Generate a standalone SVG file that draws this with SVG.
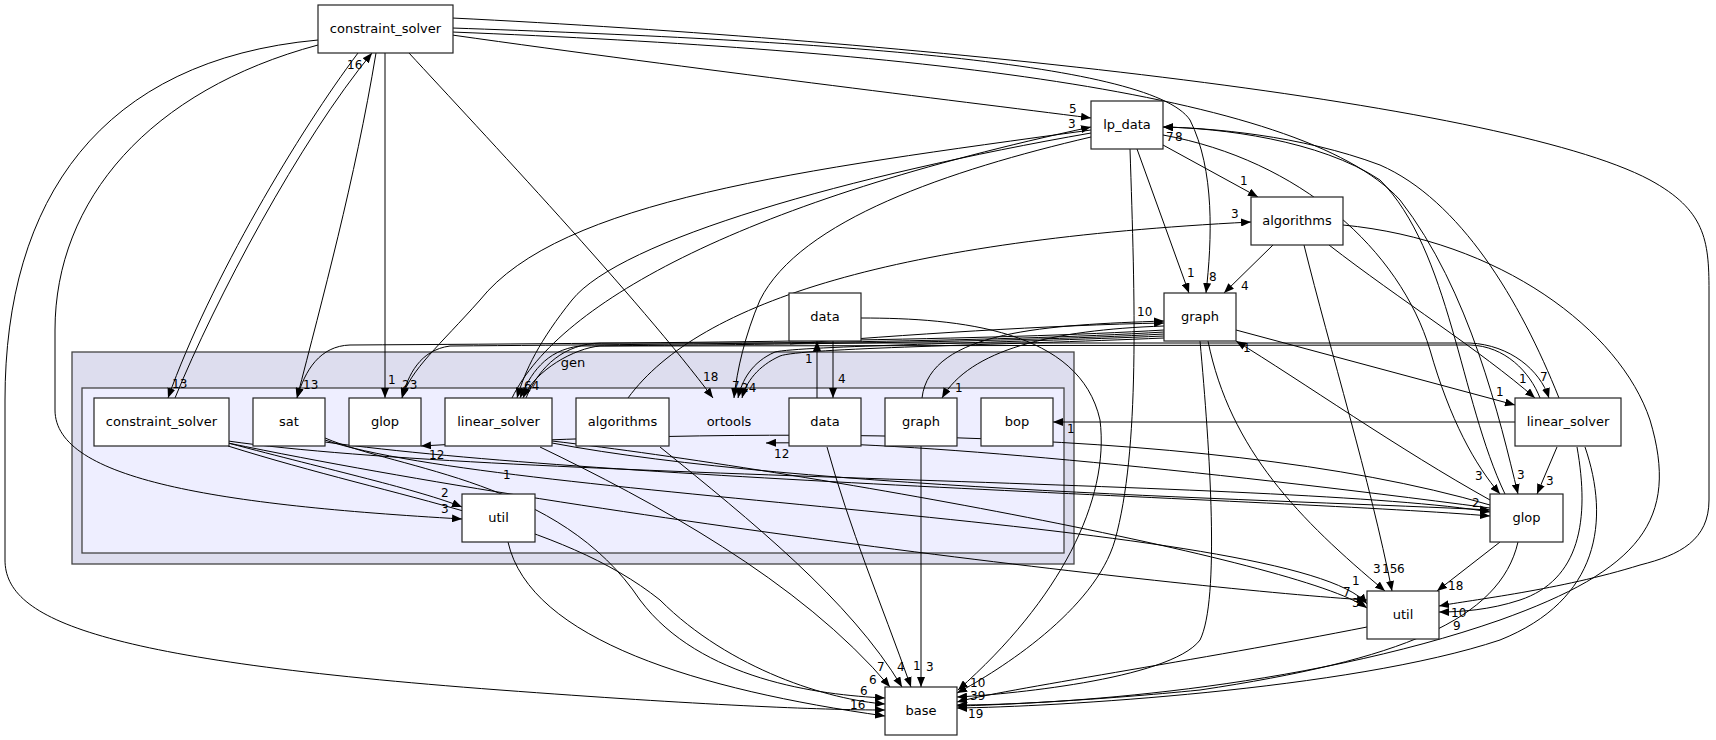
<svg xmlns="http://www.w3.org/2000/svg" width="1716" height="740" viewBox="0 0 1716 740">
<style>
.n rect{fill:#fff;stroke:#222;stroke-width:1.2}
.t{font-family:"DejaVu Sans","Liberation Sans",sans-serif;font-size:13px;fill:#000;text-anchor:middle}
.l{font-family:"DejaVu Sans","Liberation Sans",sans-serif;font-size:12px;fill:#000}
#edges path{fill:none;stroke:#000;stroke-width:1;marker-end:url(#a)}
</style>
<defs>
<marker id="a" markerWidth="10" markerHeight="8" refX="10" refY="4" orient="auto" markerUnits="userSpaceOnUse"><path d="M0,0 L10,4 L0,8 z" fill="#000"/></marker>
</defs>
<rect width="1716" height="740" fill="#fff"/>
<g id="cluster_gen">
<rect x="72" y="352" width="1002" height="212" fill="#ddddee" stroke="#444" stroke-width="1.3"/>
<text class="t" x="573" y="367">gen</text>
</g>
<g id="cluster_ortools">
<rect x="82" y="388" width="982" height="165" fill="#eeeeff" stroke="#444" stroke-width="1.3"/>
<text class="t" x="729" y="426">ortools</text>
</g>
<g id="edges">
<path d="M358,53 C300,130 210,280 168,398"/>
<path d="M175,398 C215,300 300,140 372,53"/>
<path d="M376,53 C355,180 322,300 297,398"/>
<path d="M385,53 L385,398"/>
<path d="M409,53 C480,130 640,300 713,398"/>
<path d="M452,35 C700,70 950,100 1091,118"/>
<path d="M452,28 C800,40 1150,60 1190,120 C1215,170 1212,240 1206,293"/>
<path d="M452,32 C900,50 1300,90 1400,200 C1470,290 1500,420 1518,494"/>
<path d="M452,18 C900,40 1500,100 1650,180 C1705,210 1709,240 1709,290 L1709,500 C1709,540 1680,555 1640,565 C1560,590 1470,600 1439,606"/>
<path d="M318,40 C100,60 5,200 5,400 L5,560 C5,620 100,660 500,690 C700,705 820,710 885,710"/>
<path d="M318,45 C150,90 55,200 55,330 L55,410 C55,480 220,505 462,519"/>
<path d="M1163,145 L1258,197"/>
<path d="M1137,149 L1189,293"/>
<path d="M1130,149 C1135,300 1140,450 1115,540 C1095,610 1000,670 957,693"/>
<path d="M1091,137 C950,170 800,220 760,300 C745,335 737,370 734,398"/>
<path d="M1091,130 C800,170 560,200 480,300 C440,345 410,370 402,398"/>
<path d="M1091,133 C850,175 620,240 572,300 C540,340 525,370 517,398"/>
<path d="M512,398 C560,300 750,200 1091,127"/>
<path d="M1505,494 C1460,400 1450,250 1380,180 C1320,140 1220,128 1163,127"/>
<path d="M1559,398 C1520,300 1460,200 1380,165 C1300,135 1210,128 1163,127"/>
<path d="M1163,135 C1300,160 1400,250 1430,350 C1450,420 1475,465 1500,494"/>
<path d="M1273,245 L1224,293"/>
<path d="M1329,245 C1400,300 1480,350 1535,398"/>
<path d="M1304,245 C1330,350 1370,480 1392,591"/>
<path d="M1343,225 C1500,240 1620,330 1650,420 C1680,520 1640,570 1500,620 C1300,690 1050,705 957,705"/>
<path d="M628,398 C700,300 900,240 1251,222"/>
<path d="M1236,330 L1515,405"/>
<path d="M1208,341 C1230,450 1300,520 1385,591"/>
<path d="M1200,341 C1210,450 1220,600 1200,640 C1170,680 1000,695 957,697"/>
<path d="M1490,500 C1400,450 1300,380 1236,341"/>
<path d="M1515,422 L1053,422"/>
<path d="M1557,447 L1537,494"/>
<path d="M1577,447 C1590,520 1580,580 1520,600 C1490,610 1460,612 1439,612"/>
<path d="M1585,447 C1610,520 1600,600 1500,640 C1350,690 1050,707 957,708"/>
<path d="M1500,542 L1437,591"/>
<path d="M1518,542 C1500,620 1400,660 1200,690 C1100,700 1000,705 957,706"/>
<path d="M1367,627 C1200,660 1000,690 957,702"/>
<path d="M833,341 L833,398"/>
<path d="M817,398 L817,341"/>
<path d="M861,318 C960,318 1080,330 1100,420 C1110,500 1060,600 958,690"/>
<path d="M921,446 L921,687"/>
<path d="M827,447 C850,530 880,600 911,687"/>
<path d="M660,447 C750,520 850,600 902,687"/>
<path d="M540,447 C650,500 800,580 890,687"/>
<path d="M325,438 C400,470 560,480 640,600 C700,680 820,695 885,698"/>
<path d="M228,446 C400,500 560,520 660,600 C730,670 830,700 885,704"/>
<path d="M508,542 C530,640 700,690 885,716"/>
<path d="M228,443 C330,470 420,490 462,507"/>
<path d="M228,443 C600,520 1200,590 1367,600"/>
<path d="M228,441 C500,480 1300,480 1490,512"/>
<path d="M325,440 C500,500 1300,520 1367,604"/>
<path d="M325,442 C600,480 1300,500 1490,516"/>
<path d="M552,441 C800,470 1300,560 1367,608"/>
<path d="M552,443 C800,490 1300,500 1490,510"/>
<path d="M1490,505 C1200,420 700,430 421,446"/>
<path d="M1490,508 C1200,470 900,440 766,443"/>
<path d="M1164,330 C1000,340 700,343 350,345 C320,346 305,370 297,398"/>
<path d="M1164,332 C1000,342 700,344 450,346 C420,350 408,375 402,398"/>
<path d="M1164,334 C1000,343 700,345 580,346 C545,350 530,375 520,398"/>
<path d="M526,398 C540,365 565,344 600,343 L1470,343 C1510,345 1540,370 1549,398"/>
<path d="M1540,398 C1530,372 1505,346 1470,345 L600,346 C575,348 535,370 523,398"/>
<path d="M1164,336 C1000,343 800,346 775,352 C752,362 742,380 738,398"/>
<path d="M1164,338 C1000,345 800,348 780,356 C758,366 746,382 742,398"/>
<path d="M922,398 C930,330 1050,325 1164,321"/>
<path d="M1164,326 C1050,330 970,350 942,398"/>
<path d="M790,344 C900,335 1050,325 1164,323"/>
</g>
<g id="edge_labels">
<text class="l" x="172" y="388">13</text>
<text class="l" x="347" y="69">16</text>
<text class="l" x="303" y="389">13</text>
<text class="l" x="388" y="384">1</text>
<text class="l" x="402" y="389">23</text>
<text class="l" x="703" y="381">18</text>
<text class="l" x="1069" y="113">5</text>
<text class="l" x="1068" y="128">3</text>
<text class="l" x="1166" y="141">7</text>
<text class="l" x="1175" y="141">8</text>
<text class="l" x="1209" y="281">8</text>
<text class="l" x="1187" y="277">1</text>
<text class="l" x="1240" y="185">1</text>
<text class="l" x="1231" y="218">3</text>
<text class="l" x="1241" y="290">4</text>
<text class="l" x="1519" y="383">1</text>
<text class="l" x="1496" y="396">1</text>
<text class="l" x="1540" y="381">7</text>
<text class="l" x="1243" y="352">1</text>
<text class="l" x="1137" y="316">10</text>
<text class="l" x="955" y="392">1</text>
<text class="l" x="732" y="390">7</text>
<text class="l" x="741" y="392">24</text>
<text class="l" x="524" y="390">64</text>
<text class="l" x="805" y="363">1</text>
<text class="l" x="838" y="383">4</text>
<text class="l" x="1067" y="433">1</text>
<text class="l" x="429" y="459">12</text>
<text class="l" x="774" y="458">12</text>
<text class="l" x="503" y="479">1</text>
<text class="l" x="441" y="497">2</text>
<text class="l" x="441" y="513">3</text>
<text class="l" x="1475" y="480">3</text>
<text class="l" x="1517" y="479">3</text>
<text class="l" x="1546" y="485">3</text>
<text class="l" x="1472" y="507">2</text>
<text class="l" x="1373" y="573">3</text>
<text class="l" x="1382" y="573">15</text>
<text class="l" x="1397" y="573">6</text>
<text class="l" x="1448" y="590">18</text>
<text class="l" x="1352" y="585">1</text>
<text class="l" x="1343" y="596">7</text>
<text class="l" x="1352" y="607">3</text>
<text class="l" x="1451" y="617">10</text>
<text class="l" x="1453" y="630">9</text>
<text class="l" x="877" y="671">7</text>
<text class="l" x="897" y="671">4</text>
<text class="l" x="913" y="670">1</text>
<text class="l" x="926" y="671">3</text>
<text class="l" x="869" y="684">6</text>
<text class="l" x="860" y="695">6</text>
<text class="l" x="850" y="709">16</text>
<text class="l" x="970" y="687">10</text>
<text class="l" x="970" y="700">39</text>
<text class="l" x="968" y="718">19</text>
</g>
<g id="node_constraint_solver" class="n"><rect x="318" y="5" width="135" height="48"/><text class="t" x="385.5" y="33">constraint_solver</text></g>
<g id="node_lp_data" class="n"><rect x="1091" y="101" width="72" height="48"/><text class="t" x="1127" y="129">lp_data</text></g>
<g id="node_algorithms" class="n"><rect x="1251" y="197" width="92" height="48"/><text class="t" x="1297" y="225">algorithms</text></g>
<g id="node_data" class="n"><rect x="789" y="293" width="72" height="48"/><text class="t" x="825" y="321">data</text></g>
<g id="node_graph" class="n"><rect x="1164" y="293" width="72" height="48"/><text class="t" x="1200" y="321">graph</text></g>
<g id="node_linear_solver" class="n"><rect x="1515" y="398" width="106" height="48"/><text class="t" x="1568" y="426">linear_solver</text></g>
<g id="node_glop" class="n"><rect x="1490" y="494" width="73" height="48"/><text class="t" x="1526.5" y="522">glop</text></g>
<g id="node_util" class="n"><rect x="1367" y="591" width="72" height="48"/><text class="t" x="1403" y="619">util</text></g>
<g id="node_base" class="n"><rect x="885" y="687" width="72" height="48"/><text class="t" x="921" y="715">base</text></g>
<g id="node_gen_constraint_solver" class="n"><rect x="94" y="398" width="135" height="48"/><text class="t" x="161.5" y="426">constraint_solver</text></g>
<g id="node_gen_sat" class="n"><rect x="253" y="398" width="72" height="48"/><text class="t" x="289" y="426">sat</text></g>
<g id="node_gen_glop" class="n"><rect x="349" y="398" width="72" height="48"/><text class="t" x="385" y="426">glop</text></g>
<g id="node_gen_linear_solver" class="n"><rect x="445" y="398" width="107" height="48"/><text class="t" x="498.5" y="426">linear_solver</text></g>
<g id="node_gen_algorithms" class="n"><rect x="576" y="398" width="93" height="48"/><text class="t" x="622.5" y="426">algorithms</text></g>
<g id="node_gen_data" class="n"><rect x="789" y="398" width="72" height="48"/><text class="t" x="825" y="426">data</text></g>
<g id="node_gen_graph" class="n"><rect x="885" y="398" width="72" height="48"/><text class="t" x="921" y="426">graph</text></g>
<g id="node_gen_bop" class="n"><rect x="981" y="398" width="72" height="48"/><text class="t" x="1017" y="426">bop</text></g>
<g id="node_gen_util" class="n"><rect x="462" y="494" width="73" height="48"/><text class="t" x="498.5" y="522">util</text></g>
</svg>
